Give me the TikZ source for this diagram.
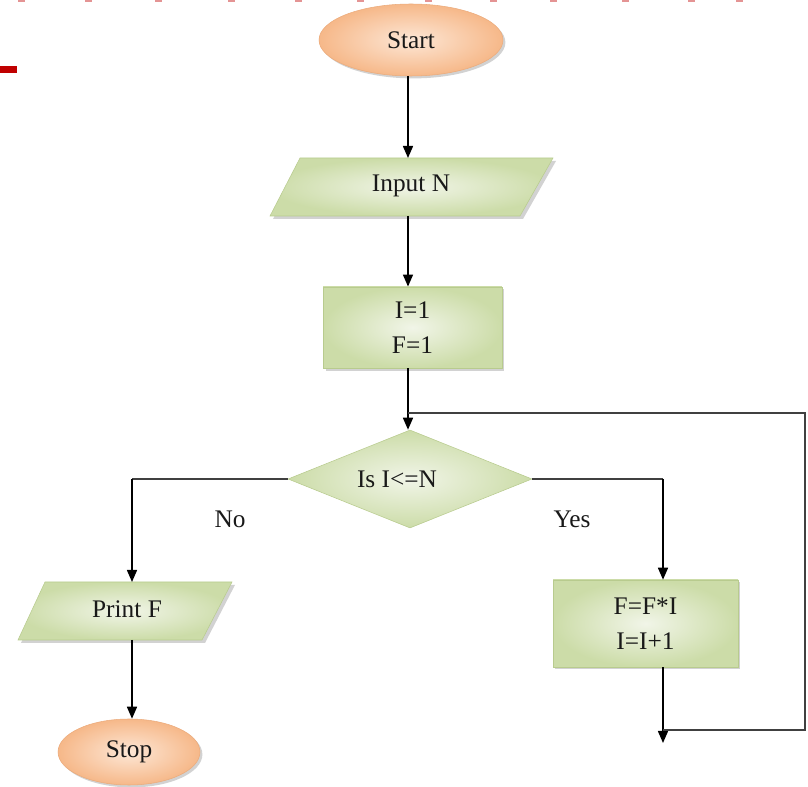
\documentclass[tikz,border=0pt]{standalone}
\usepackage{fontspec}
\setmainfont{Liberation Serif}
\usetikzlibrary{shapes.geometric,arrows.meta,shadows}
\definecolor{grin}{HTML}{F1F5E8}
\definecolor{grout}{HTML}{CCDCA8}
\definecolor{grline}{HTML}{B8CB8E}
\definecolor{orin}{HTML}{FDE7D6}
\definecolor{orout}{HTML}{F6B889}
\definecolor{orline}{HTML}{EBAB7C}
\definecolor{redbar}{HTML}{C00000}
\definecolor{redmark}{HTML}{E49494}
\begin{document}
\begin{tikzpicture}[x=0.75pt,y=-0.75pt,
  txt/.style={font=\fontsize{19}{26}\selectfont, align=center, text=black!90},
  shad/.style={drop shadow={shadow xshift=1.8pt,shadow yshift=-1.8pt,fill=black!22,opacity=0.8}},
  term/.style={ellipse, inner sep=0pt, inner color=orin, outer color=orout, draw=orline, line width=0.4pt, shad, txt},
  proc/.style={rectangle, inner sep=0pt, inner color=grin, outer color=grout, draw=grline, line width=0.4pt, shad, txt},
  dec/.style={diamond, inner sep=0pt, inner color=grin, outer color=grout, draw=grline, line width=0.4pt, txt},
  io/.style={inner color=grin, outer color=grout, draw=grline, line width=0.4pt},
  iosh/.style={fill=black!22, opacity=0.8},
  arr/.style={draw=black, line width=1.15pt, -{Triangle[length=9pt,width=7.5pt]}},
  ln/.style={draw=black!75, line width=1.15pt}
]
\useasboundingbox (0,0) rectangle (808,787);
% decorative red marks
\fill[redbar] (0,66) rectangle (17,73);
\foreach \x in {18,85,155,228,295,357,425,490,550,622,688,736}
  \fill[redmark] (\x,0) rectangle (\x+7,2.5);

% Start
\node[term, minimum width=138pt, minimum height=54pt] (start) at (411,40) {Start};

% Input N parallelogram
\fill[iosh] (303,161) -- (556,161) -- (523,219) -- (273,219) -- cycle;
\path[io] (300,158) -- (553,158) -- (520,216) -- (270,216) -- cycle;
\node[txt] (inputN) at (411,186) {Input N};
\coordinate (inTop) at (408,158);
\coordinate (inBot) at (408,216);

% I=1 F=1
\node[proc, minimum width=134pt, minimum height=61pt] (init) at (412.5,327.5) {I=1\\F=1};

% Decision
\node[dec, minimum width=183pt, minimum height=73.5pt] (dec) at (410,479) {};
\node[txt] (declbl) at (397,479) {Is I<=N};

% Print F parallelogram
\fill[iosh] (48,585) -- (235,585) -- (205,643) -- (21,643) -- cycle;
\path[io] (45,582) -- (232,582) -- (202,640) -- (18,640) -- cycle;
\node[txt] (printF) at (127,609) {Print F};
\coordinate (prTop) at (132,582);
\coordinate (prBot) at (132,640);

% Stop
\node[term, minimum width=106.5pt, minimum height=49.5pt] (stop) at (129,752) {Stop};

% F=F*I box
\node[proc, minimum width=138.75pt, minimum height=65.25pt] (upd) at (645.5,623.5) {F=F*I\\I=I+1};

% labels
\node[txt] (no) at (230,519) {No};
\node[txt] (yes) at (572,519) {Yes};

% loop coordinates
\coordinate (lpA) at (663,730);
\coordinate (lpB) at (805,730);
\coordinate (lpC) at (805,413);
\coordinate (lpD) at (408,413);
\coordinate (lpEnd) at (663,743);

% connectors
\draw[arr] (inTop |- start.south) -- (inTop);
\draw[arr] (inBot) -- (inBot |- init.north);
\draw[arr] (inBot |- init.south) -- (inBot |- dec.north);
\draw[ln] (dec.west) -- (prTop |- dec.west);
\draw[arr] (prTop |- dec.west) -- (prTop);
\draw[arr] (prBot) -- (prBot |- stop.north);
\draw[ln] (dec.east) -- (lpA |- dec.east);
\draw[arr] (lpA |- dec.east) -- (lpA |- upd.north);
\draw[arr] (lpA |- upd.south) -- (lpEnd);
\draw[ln] (lpA) -- (lpB) -- (lpC) -- (lpD);
\end{tikzpicture}
\end{document}
